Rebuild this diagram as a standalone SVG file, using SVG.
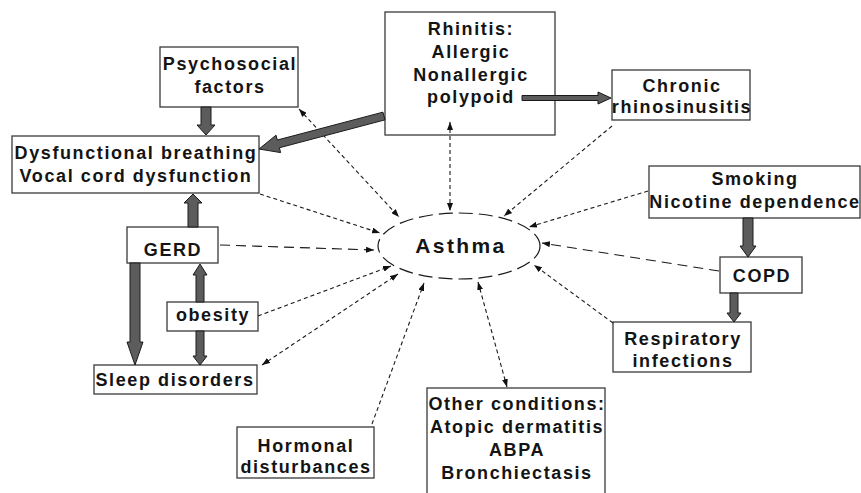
<svg xmlns="http://www.w3.org/2000/svg" width="861" height="493" viewBox="0 0 861 493">
  <style>
    .box { fill: #ffffff; stroke: #3a3a3a; stroke-width: 1.3; }
    .lbl { font-family: "Liberation Sans", Arial, sans-serif; font-weight: bold; font-size: 18px; fill: #141414; text-anchor: middle; letter-spacing: 1.6px; }
    .big { font-size: 21px; letter-spacing: 2.4px; }
    .thin { fill: none; stroke: #1a1a1a; stroke-width: 1.1; stroke-dasharray: 4 3; }
    .long { stroke-dasharray: 10 6; }
    .thick { fill: #5c5c5c; stroke: #1a1a1a; stroke-width: 1; stroke-linejoin: miter; }
  </style>
  <defs>
    <marker id="tip" viewBox="0 0 8 6" refX="8" refY="3" markerWidth="8" markerHeight="6" markerUnits="userSpaceOnUse" orient="auto-start-reverse">
      <path d="M0,0 L8,3 L0,6 z" fill="#111"/>
    </marker>
  </defs>

  <rect width="861" height="493" fill="#ffffff"/>

  <!-- nodes -->
  <g id="asthma">
    <ellipse cx="459" cy="246" rx="81" ry="33" fill="#ffffff" stroke="#1a1a1a" stroke-width="1.2" stroke-dasharray="14 6"/>
    <text class="lbl big" x="461" y="253">Asthma</text>
  </g>

  <g id="psychosocial">
    <rect class="box" x="160" y="47" width="138" height="60"/>
    <text class="lbl" x="230" y="70">Psychosocial</text>
    <text class="lbl" x="230" y="93">factors</text>
  </g>

  <g id="dysfunctional">
    <rect class="box" x="12" y="136" width="247" height="57"/>
    <text class="lbl" x="136" y="159">Dysfunctional breathing</text>
    <text class="lbl" x="136" y="182">Vocal cord dysfunction</text>
  </g>

  <g id="rhinitis">
    <rect class="box" x="385" y="12" width="170" height="123"/>
    <text class="lbl" x="471" y="35">Rhinitis:</text>
    <text class="lbl" x="471" y="58">Allergic</text>
    <text class="lbl" x="471" y="81">Nonallergic</text>
    <text class="lbl" x="471" y="103">polypoid</text>
  </g>

  <g id="chronic">
    <rect class="box" x="612" y="70" width="138" height="50"/>
    <text class="lbl" x="682" y="92">Chronic</text>
    <text class="lbl" x="682" y="113">rhinosinusitis</text>
  </g>

  <g id="smoking">
    <rect class="box" x="649" y="166" width="211" height="52"/>
    <text class="lbl" x="755" y="185">Smoking</text>
    <text class="lbl" x="755" y="208">Nicotine dependence</text>
  </g>

  <g id="copd">
    <rect class="box" x="720" y="257" width="82" height="36"/>
    <text class="lbl" x="762" y="282">COPD</text>
  </g>

  <g id="respiratory">
    <rect class="box" x="613" y="322" width="138" height="50"/>
    <text class="lbl" x="683" y="345">Respiratory</text>
    <text class="lbl" x="683" y="367">infections</text>
  </g>

  <g id="other">
    <rect class="box" x="427" y="388" width="178" height="120"/>
    <text class="lbl" x="517" y="410">Other conditions:</text>
    <text class="lbl" x="517" y="433">Atopic dermatitis</text>
    <text class="lbl" x="517" y="456">ABPA</text>
    <text class="lbl" x="517" y="479">Bronchiectasis</text>
  </g>

  <g id="gerd">
    <rect class="box" x="127" y="227" width="91" height="36"/>
    <text class="lbl" x="173" y="256">GERD</text>
  </g>

  <g id="obesity">
    <rect class="box" x="167" y="302" width="91" height="29"/>
    <text class="lbl" x="213" y="321">obesity</text>
  </g>

  <g id="sleep">
    <rect class="box" x="94" y="365" width="163" height="29"/>
    <text class="lbl" x="175" y="386">Sleep disorders</text>
  </g>

  <g id="hormonal">
    <rect class="box" x="237" y="427" width="137" height="51"/>
    <text class="lbl" x="306" y="452">Hormonal</text>
    <text class="lbl" x="306" y="473">disturbances</text>
  </g>

  <!-- connectors -->
  <g id="connectors">
    <!-- thin dashed links to the central node -->
    <line class="thin" x1="299" y1="109" x2="399" y2="217" marker-start="url(#tip)" marker-end="url(#tip)"/>
    <line class="thin" x1="260" y1="194" x2="380" y2="233" marker-end="url(#tip)"/>
    <line class="thin long" x1="220" y1="245" x2="374" y2="250" marker-end="url(#tip)"/>
    <line class="thin" x1="258" y1="316" x2="391" y2="266" marker-end="url(#tip)"/>
    <line class="thin" x1="262" y1="365" x2="398" y2="274" marker-start="url(#tip)" marker-end="url(#tip)"/>
    <line class="thin" x1="372" y1="424" x2="424" y2="283" marker-end="url(#tip)"/>
    <line class="thin" x1="478" y1="282" x2="507" y2="387" marker-start="url(#tip)" marker-end="url(#tip)"/>
    <line class="thin" x1="613" y1="323" x2="534" y2="265" marker-end="url(#tip)"/>
    <line class="thin long" x1="719" y1="271" x2="542" y2="243" marker-end="url(#tip)"/>
    <line class="thin" x1="648" y1="191" x2="529" y2="227" marker-end="url(#tip)"/>
    <line class="thin" x1="612" y1="126" x2="504" y2="216" marker-end="url(#tip)"/>
    <line class="thin" x1="450" y1="122" x2="450" y2="211" marker-start="url(#tip)" marker-end="url(#tip)"/>

    <!-- thick block arrows -->
    <!-- psychosocial -> dysfunctional breathing -->
    <polygon class="thick" points="201,107 211,107 211,125 215,125 206,135 197,125 201,125"/>
    <!-- rhinitis -> dysfunctional breathing -->
    <polygon class="thick" points="382.98,112.13 277.32,140.03 276.04,135.20 259,149 280.64,152.60 279.36,147.77 385.02,119.87"/>
    <!-- rhinitis -> chronic rhinosinusitis -->
    <polygon class="thick" points="522,95.5 598,95.5 598,92 611,98 598,104 598,100.5 522,100.5"/>
    <!-- GERD -> dysfunctional breathing -->
    <polygon class="thick" points="188,227 198,227 198,203 202,203 193,194 184,203 188,203"/>
    <!-- GERD -> sleep disorders -->
    <polygon class="thick" points="130,263 140,263 140,342 143,342 135,365 127,342 130,342"/>
    <!-- obesity -> GERD -->
    <polygon class="thick" points="196,302 204,302 204,275 207,275 200,264 193,275 196,275"/>
    <!-- obesity -> sleep disorders -->
    <polygon class="thick" points="196,331 204,331 204,356 207,356 200,365 193,356 196,356"/>
    <!-- smoking -> COPD -->
    <polygon class="thick" points="743,218 753,218 753,246 756,246 748,257 740,246 743,246"/>
    <!-- COPD -> respiratory infections -->
    <polygon class="thick" points="730,293 738,293 738,313 741,313 734,322 727,313 730,313"/>
  </g>
</svg>
